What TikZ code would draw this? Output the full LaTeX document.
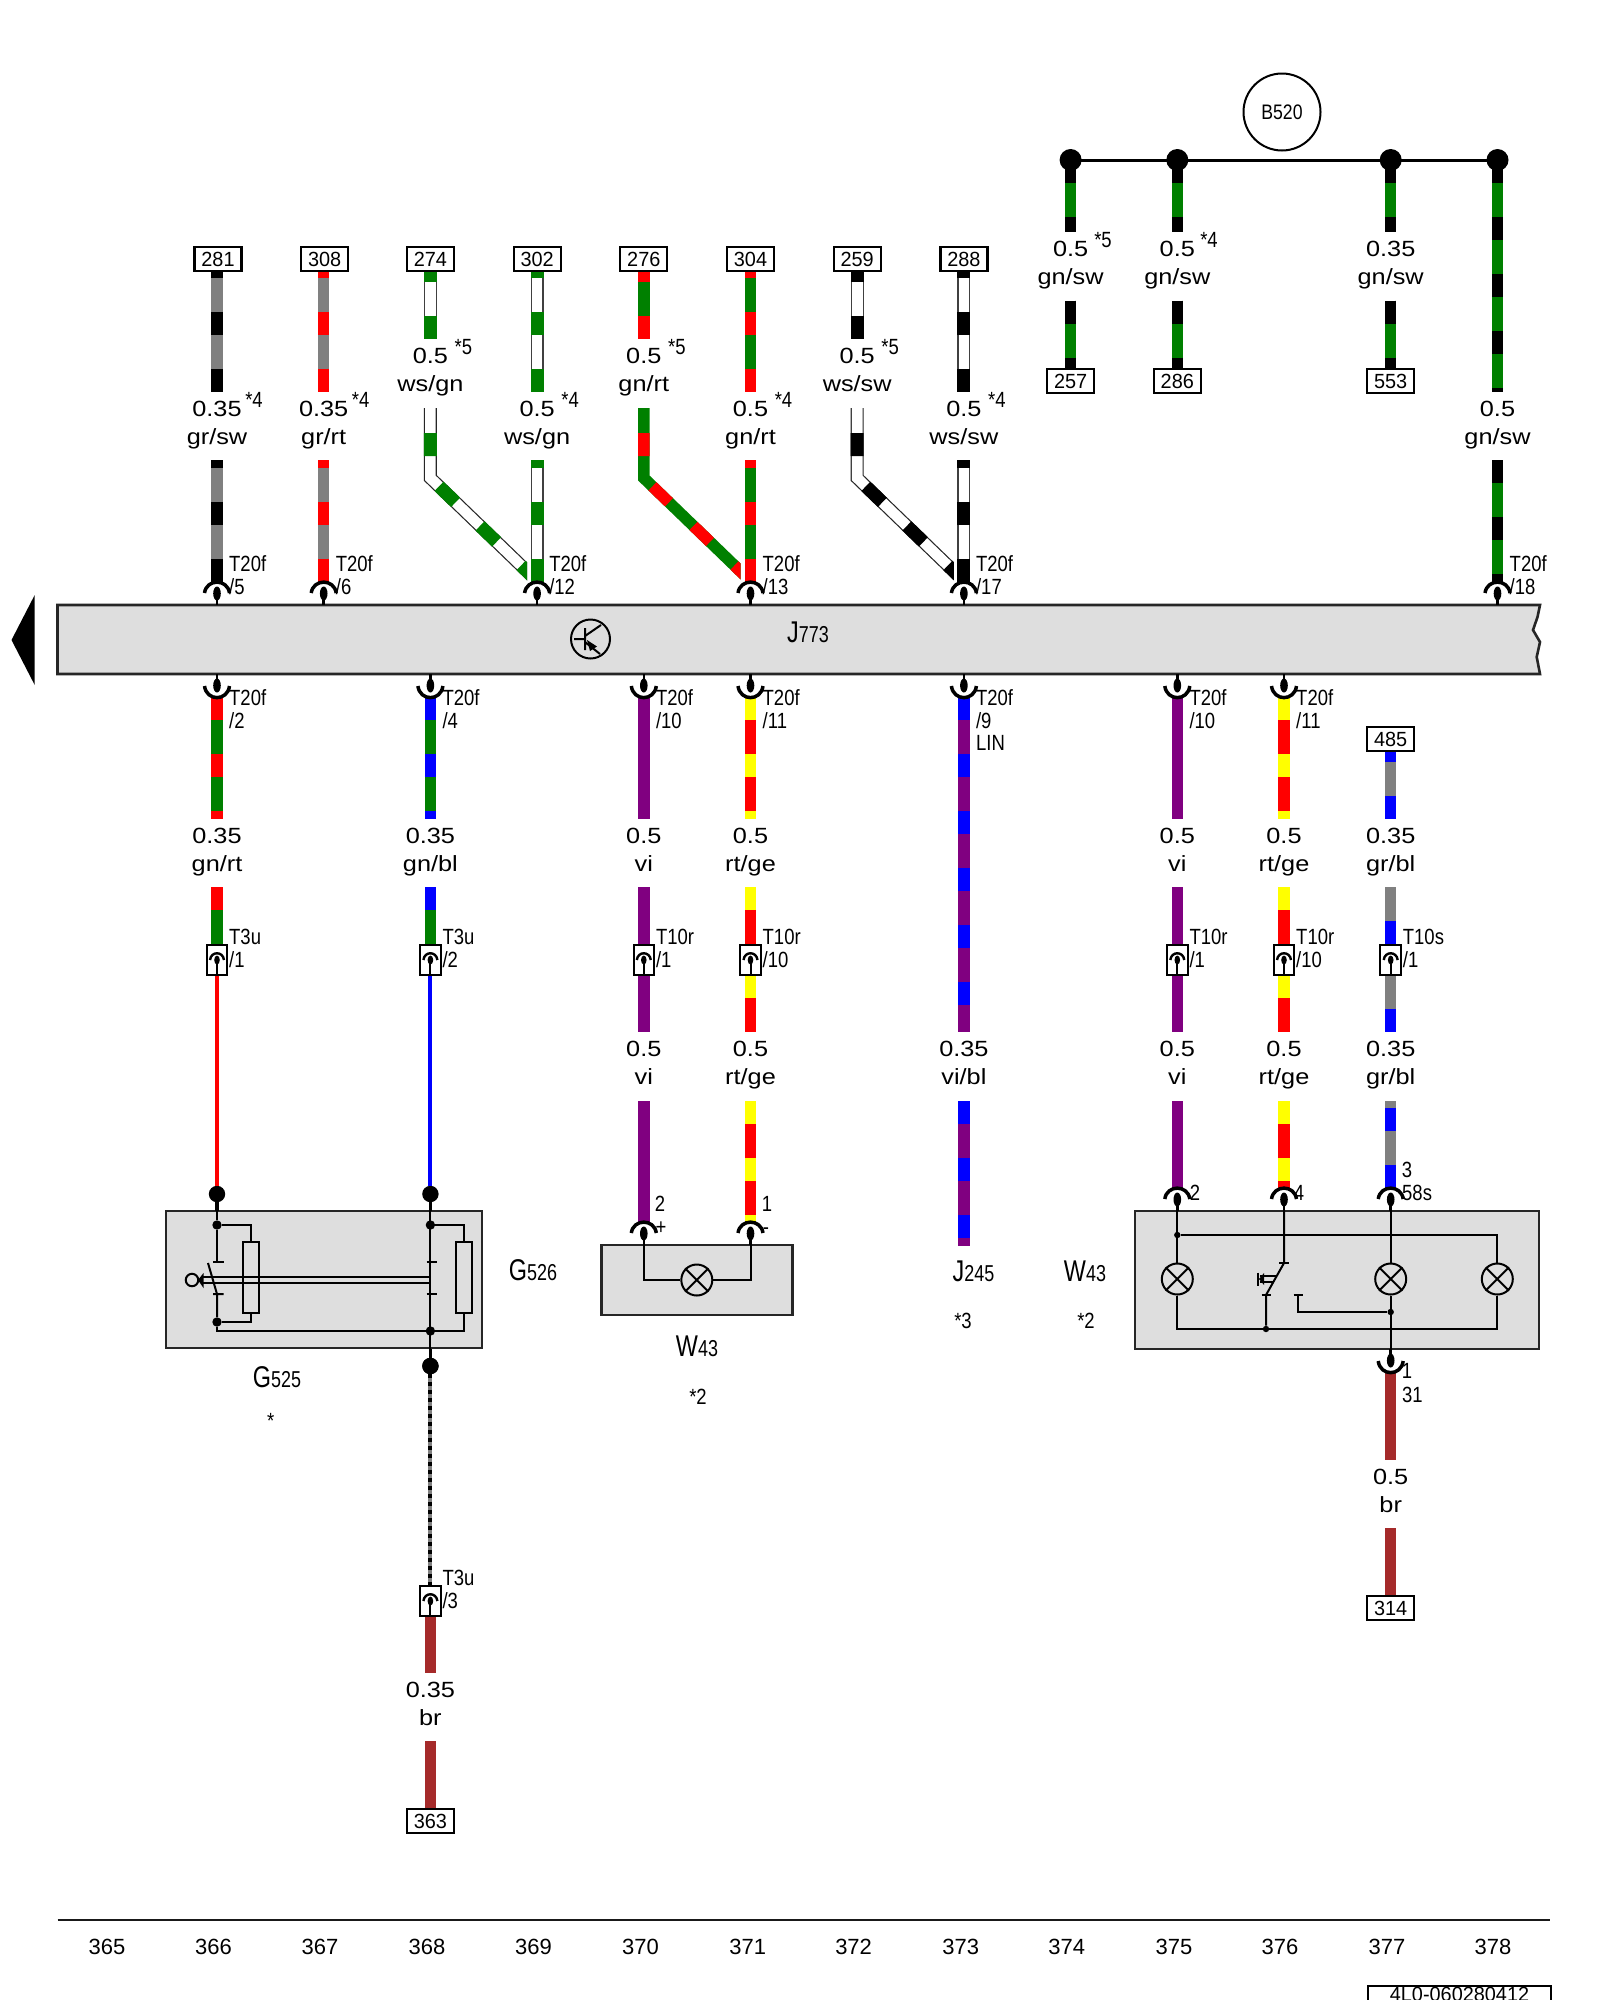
\documentclass[tikz,border=0pt]{standalone}
\usepackage{fontspec}
\setmainfont{Liberation Sans}
\newfontfamily\widef[FakeStretch=1.15]{Liberation Sans}
\newfontfamily\narf[FakeStretch=.84]{Liberation Sans}
\newfontfamily\boxf[FakeStretch=.97]{Liberation Sans}
\newfontfamily\bigf[FakeStretch=.78]{Liberation Sans}
\definecolor{gnc}{RGB}{0,128,0}
\definecolor{rtc}{RGB}{255,0,0}
\definecolor{blc}{RGB}{0,0,255}
\definecolor{gec}{RGB}{255,255,0}
\definecolor{vic}{RGB}{128,0,128}
\definecolor{grc}{RGB}{128,128,128}
\definecolor{brc}{RGB}{165,42,42}
\definecolor{panel}{RGB}{222,222,222}
\tikzset{
 wirepen/.style={line width=11.5pt},
 numtxt/.style={anchor=base,inner sep=0pt,font=\widef\fontsize{22}{22}\selectfont},
 pintxt/.style={anchor=base west,inner sep=0pt,font=\narf\fontsize{22}{22}\selectfont},
 pinctr/.style={anchor=base,inner sep=0pt,font=\narf\fontsize{22}{22}\selectfont},
 bigtxt/.style={anchor=base,inner sep=0pt,font=\bigf},
 refbox/.style={draw=black,line width=2.2pt,fill=white,inner sep=0pt,minimum width=47pt,minimum height=24pt,text height=14.7pt,text depth=0pt,font=\boxf\fontsize{20.5}{20.5}\selectfont},
 conn/.style={draw=black,line width=2pt,fill=white,inner sep=0pt,minimum width=20.5pt,minimum height=30pt},
 panelbox/.style={draw=black!85,line width=2.6pt,fill=panel},
 thin wire/.style={line width=2pt},
 bigdot/.style={circle,fill=black,inner sep=0pt,minimum size=16.4pt},
 huge dot/.style={circle,fill=black,inner sep=0pt,minimum size=22pt},
 meddot/.style={circle,fill=black,inner sep=0pt,minimum size=9.4pt},
 smalldot/.style={circle,fill=black,inner sep=0pt,minimum size=6.4pt},
 lampc/.style={circle,draw=black,line width=2pt,inner sep=0pt,minimum size=31pt},
 resist/.style={draw=black,line width=2pt,inner sep=0pt,minimum width=16pt,minimum height=71pt},
}
\newcount\tc
\newcommand\tx[4]{\global\advance\tc by 1 \node[#1] (t\the\tc) at (#2,#3) {#4};}
% striped wire section
\newcommand\wseg[7]{\coordinate (#1a) at (#2,#3); \coordinate (#1b) at (#2,#4);
 \draw[wirepen,#5] (#1a) -- (#1b);
 \draw[wirepen,#6,dash pattern=on 23pt off 34pt,dash phase=#7pt] (#1a) -- (#1b);}
% white wire with fine outline
\newcommand\wsegw[6]{\coordinate (#1a) at (#2,#3); \coordinate (#1b) at (#2,#4);
 \draw[line width=13pt,black!75] (#1a) -- (#1b);
 \draw[line width=10.6pt,white] (#1a) -- (#1b);
 \draw[line width=13pt,#5,dash pattern=on 23pt off 34pt,dash phase=#6pt] (#1a) -- (#1b);}
\newcommand\wsol[5]{\coordinate (#1a) at (#2,#3); \coordinate (#1b) at (#2,#4);
 \draw[wirepen,#5] (#1a) -- (#1b);}
% bent wires which run into the neighbouring pin
\newcommand\wbend[5]{\begin{scope}
 \clip (#2-20,400) rectangle (#3-10,600);
 \coordinate (#1a) at (#2,408); \coordinate (#1b) at (#2,478); \coordinate (#1c) at (#3,581);
 \draw[wirepen,#4] (#1a) -- (#1b) -- (#1c);
 \draw[wirepen,#5,dash pattern=on 23pt off 34pt,dash phase=32pt] (#1a) -- (#1b) -- (#1c);
 \end{scope}}
\newcommand\wbendw[4]{\begin{scope}
 \clip (#2-20,400) rectangle (#3-10,600);
 \coordinate (#1a) at (#2,408); \coordinate (#1b) at (#2,478); \coordinate (#1c) at (#3,581);
 \draw[line width=13pt,black!85] (#1a) -- (#1b) -- (#1c);
 \draw[line width=10.6pt,white] (#1a) -- (#1b) -- (#1c);
 \draw[line width=13pt,#4,dash pattern=on 23pt off 34pt,dash phase=32pt] (#1a) -- (#1b) -- (#1c);
 \end{scope}}
\newcommand\gauge[4]{\tx{numtxt}{#1}{#2+24}{#3}\tx{numtxt}{#1}{#2+52}{#4}}
\newcommand\stm[3]{\tx{pinctr}{#1}{#2+15}{#3}}
\newcommand\pinT[3]{\coordinate (#1a) at (#2,#3); \coordinate (#1b) at (#2,#3+22.5);
 \draw[line width=3.5pt] (#2-12.5,#3+11) .. controls (#2-10.5,#3-3.5) and (#2+10.5,#3-3.5) .. (#2+12.5,#3+11);
 \fill (#2,#3+11.5) ellipse (3.8pt and 7pt);
 \draw[line width=2.6pt] (#2,#3+12) -- (#1b);}
\newcommand\pinB[3]{\coordinate (#1a) at (#2,#3); \coordinate (#1b) at (#2,#3+24);
 \draw[line width=3.5pt] (#2-12.5,#3+12) .. controls (#2-10.5,#3+27.5) and (#2+10.5,#3+27.5) .. (#2+12.5,#3+12);
 \fill (#2,#3+11.5) ellipse (3.8pt and 7pt);
 \draw[line width=2.6pt] (#1a) -- (#2,#3+11);}
\newcommand\topc[3]{\pinT{#1}{#2}{582}\tx{pintxt}{#2+12}{571}{T20f}\tx{pintxt}{#2+12}{594}{#3}}
\newcommand\botc[3]{\pinB{#1}{#2}{674}\tx{pintxt}{#2+12}{705}{T20f}\tx{pintxt}{#2+12}{728}{#3}}
\newcommand\conbox[5]{\node[conn] (#1) at (#2,#3+15) {};
 \draw[line width=2.4pt] (#2-7,#3+15) .. controls (#2-6,#3+6) and (#2+6,#3+6) .. (#2+7,#3+15);
 \fill (#2,#3+15) ellipse (2.8pt and 4.5pt);
 \draw[line width=2pt] (#2,#3+15) -- (#1.south);
 \tx{pintxt}{#2+12}{#3-1}{#4}\tx{pintxt}{#2+12}{#3+22}{#5}}
\newcommand\refb[4]{\node[refbox] (#1) at (#2,#3) {#4};}
\newcommand\lamp[3]{\node[lampc] (#1) at (#2,#3) {};
 \draw[line width=2pt] (#1.north west) -- (#1.south east) (#1.north east) -- (#1.south west);}
\begin{document}
\begin{tikzpicture}[x=1pt,y=-1pt]
\useasboundingbox (0,0) rectangle (1600,2000);
\fill[white] (0,0) rectangle (1600,2000);

% control unit bar and side arrow
\draw[panelbox] (57.5,605) -- (1540,605) -- (1537.5,617) -- (1533,630) -- (1540,642) -- (1536.7,657) -- (1540,674) -- (57.5,674) -- cycle;
\fill (11.5,640) -- (34.7,595) -- (34.7,685) -- cycle;
\node[circle,draw=black,line width=2pt,inner sep=0pt,minimum size=39pt] (trans) at (590.5,639) {};
\draw[line width=2pt] (574,639) -- (585,639) (585,628) -- (585,650) (585,636) -- (601,625) (585,642) -- (600,654);
\fill (587,640) -- (597,646.5) -- (590,651) -- cycle;
\tx{bigtxt}{808}{642}{{\fontsize{30}{30}\selectfont J}{\fontsize{23}{23}\selectfont 773}}

% B520 bus
\node[circle,draw=black,line width=2pt,inner sep=0pt,minimum size=77pt,font=\narf\fontsize{21}{21}\selectfont] (b520) at (1282,112) {B520};
\coordinate (busl) at (1071,160); \coordinate (busr) at (1498,160);
\draw[line width=3pt] (busl) -- (busr);

% ---- upper wires ----
% 281
\wseg{a1}{217}{271}{392}{grc}{black}{16}
\refb{b281}{218}{259}{281}
\gauge{217}{392}{0.35}{gr/sw}\stm{254}{392}{*4}
\wseg{a2}{217}{460}{582}{grc}{black}{15}
\topc{pa}{217}{/5}
% 308
\wseg{c1}{323.7}{271}{392}{grc}{rtc}{16}
\refb{b308}{324.7}{259}{308}
\gauge{323.7}{392}{0.35}{gr/rt}\stm{360.7}{392}{*4}
\wseg{c2}{323.7}{460}{582}{grc}{rtc}{15}
\topc{pc}{323.7}{/6}
% 274
\wsegw{d1}{430.4}{271}{339}{gnc}{12}
\refb{b274}{430.4}{259}{274}
\gauge{430.4}{339}{0.5}{ws/gn}\stm{463.4}{339}{*5}
\wbendw{d2}{430.4}{537.1}{gnc}
% 302
\wsegw{e1}{537.1}{271}{392}{gnc}{16}
\refb{b302}{537.1}{259}{302}
\gauge{537.1}{392}{0.5}{ws/gn}\stm{570.1}{392}{*4}
\wsegw{e2}{537.1}{460}{582}{gnc}{15}
\topc{pe}{537.1}{/12}
% 276
\wseg{f1}{643.8}{271}{339}{gnc}{rtc}{12}
\refb{b276}{643.8}{259}{276}
\gauge{643.8}{339}{0.5}{gn/rt}\stm{676.8}{339}{*5}
\wbend{f2}{643.8}{750.5}{gnc}{rtc}
% 304
\wseg{g1}{750.5}{271}{392}{gnc}{rtc}{16}
\refb{b304}{750.5}{259}{304}
\gauge{750.5}{392}{0.5}{gn/rt}\stm{783.5}{392}{*4}
\wseg{g2}{750.5}{460}{582}{gnc}{rtc}{15}
\topc{pg}{750.5}{/13}
% 259
\wsegw{h1}{857.2}{271}{339}{black}{12}
\refb{b259}{857.2}{259}{259}
\gauge{857.2}{339}{0.5}{ws/sw}\stm{890.2}{339}{*5}
\wbendw{h2}{857.2}{963.9}{black}
% 288
\wsegw{i1}{963.9}{271}{392}{black}{16}
\refb{b288}{963.9}{259}{288}
\gauge{963.9}{392}{0.5}{ws/sw}\stm{996.9}{392}{*4}
\wsegw{i2}{963.9}{460}{582}{black}{15}
\topc{pi}{963.9}{/17}
% 257
\wseg{j1}{1070.6}{161}{232}{gnc}{black}{1}
\gauge{1070.6}{232}{0.5}{gn/sw}\stm{1103}{232}{*5}
\wseg{j2}{1070.6}{300.5}{369}{gnc}{black}{0}
\refb{b257}{1070.6}{381}{257}
% 286
\wseg{k1}{1177.3}{161}{232}{gnc}{black}{1}
\gauge{1177.3}{232}{0.5}{gn/sw}\stm{1209}{232}{*4}
\wseg{k2}{1177.3}{300.5}{369}{gnc}{black}{0}
\refb{b286}{1177.3}{381}{286}
% 553
\wseg{l1}{1390.7}{161}{232}{gnc}{black}{1}
\gauge{1390.7}{232}{0.35}{gn/sw}
\wseg{l2}{1390.7}{300.5}{369}{gnc}{black}{0}
\refb{b553}{1390.7}{381}{553}
% long one
\wseg{m1}{1497.5}{161}{392}{gnc}{black}{1}
\gauge{1497.5}{392}{0.5}{gn/sw}
\wseg{m2}{1497.5}{460}{582}{gnc}{black}{0}
\topc{pm}{1497.5}{/18}
\node[huge dot] (bd1) at (1070.6,160) {};
\node[huge dot] (bd2) at (1177.3,160) {};
\node[huge dot] (bd3) at (1390.7,160) {};
\node[huge dot] (bd4) at (1497.5,160) {};

% ---- lower wires ----
% G525 feed
\wseg{n1}{217}{698}{819}{gnc}{rtc}{1}
\gauge{217}{819}{0.35}{gn/rt}
\wseg{n2}{217}{887}{945}{gnc}{rtc}{0}
\botc{pn}{217}{/2}
\conbox{cn}{217}{945}{T3u}{/1}
\node[bigdot] (jg1) at (217,1194) {};
\draw[line width=4pt,rtc] (cn.south) -- (jg1);
% G526 feed
\wseg{o1}{430.4}{698}{819}{gnc}{blc}{1}
\gauge{430.4}{819}{0.35}{gn/bl}
\wseg{o2}{430.4}{887}{945}{gnc}{blc}{0}
\botc{po}{430.4}{/4}
\conbox{co}{430.4}{945}{T3u}{/2}
\node[bigdot] (jg2) at (430.4,1194) {};
\draw[line width=4pt,blc] (co.south) -- (jg2);
% W43 left
\wsol{q1}{643.8}{698}{819}{vic}
\gauge{643.8}{819}{0.5}{vi}
\wsol{q2}{643.8}{887}{945}{vic}
\wsol{q3}{643.8}{975}{1032}{vic}
\gauge{643.8}{1032}{0.5}{vi}
\wsol{q4}{643.8}{1101}{1222}{vic}
\botc{pq}{643.8}{/10}
\conbox{cq}{643.8}{945}{T10r}{/1}
\wseg{r1}{750.5}{698}{819}{rtc}{gec}{1}
\gauge{750.5}{819}{0.5}{rt/ge}
\wseg{r2}{750.5}{887}{945}{rtc}{gec}{0}
\wseg{r3}{750.5}{975}{1032}{rtc}{gec}{0}
\gauge{750.5}{1032}{0.5}{rt/ge}
\wseg{r4}{750.5}{1101}{1222}{rtc}{gec}{0}
\botc{pr}{750.5}{/11}
\conbox{cr}{750.5}{945}{T10r}{/10}
% J245
\wseg{s1}{963.9}{698}{1032}{vic}{blc}{1}
\gauge{963.9}{1032}{0.35}{vi/bl}
\wseg{s2}{963.9}{1101}{1246}{vic}{blc}{0}
\botc{ps}{963.9}{/9}
\tx{pintxt}{976}{750}{LIN}
% W43 right
\wsol{u1}{1177.3}{698}{819}{vic}
\gauge{1177.3}{819}{0.5}{vi}
\wsol{u2}{1177.3}{887}{945}{vic}
\wsol{u3}{1177.3}{975}{1032}{vic}
\gauge{1177.3}{1032}{0.5}{vi}
\wsol{u4}{1177.3}{1101}{1188}{vic}
\botc{pu}{1177.3}{/10}
\conbox{cu}{1177.3}{945}{T10r}{/1}
\wseg{v1}{1284}{698}{819}{rtc}{gec}{1}
\gauge{1284}{819}{0.5}{rt/ge}
\wseg{v2}{1284}{887}{945}{rtc}{gec}{0}
\wseg{v3}{1284}{975}{1032}{rtc}{gec}{0}
\gauge{1284}{1032}{0.5}{rt/ge}
\wseg{v4}{1284}{1101}{1188}{rtc}{gec}{0}
\botc{pv}{1284}{/11}
\conbox{cv}{1284}{945}{T10r}{/10}
\wseg{y1}{1390.7}{751}{819}{grc}{blc}{12}
\refb{b485}{1390.7}{739}{485}
\gauge{1390.7}{819}{0.35}{gr/bl}
\wseg{y2}{1390.7}{887}{945}{grc}{blc}{23}
\wseg{y3}{1390.7}{975}{1032}{grc}{blc}{23}
\gauge{1390.7}{1032}{0.35}{gr/bl}
\wseg{y4}{1390.7}{1101}{1188}{grc}{blc}{50}
\conbox{cy}{1390.7}{945}{T10s}{/1}

% ---- G525 / G526 box ----
\node[panelbox,minimum width=316pt,minimum height=137pt,inner sep=0pt] (gbox) at (324,1279.5) {};
\node[bigdot] (jg3) at (430.4,1366) {};
\node[meddot] (gl1) at (217,1225) {};
\node[meddot] (gl2) at (217,1322) {};
\node[meddot] (gr1) at (430.4,1225) {};
\node[meddot] (gr2) at (430.4,1331) {};
\node[resist] (res1) at (251,1277.5) {};
\node[resist] (res2) at (464,1277.5) {};
\coordinate (gc1) at (217,1262); \coordinate (gc2) at (217,1294); \coordinate (gc3) at (208,1263);
\draw[line width=3.5pt] (jg1) -- (217,1211) (jg2) -- (430.4,1211) (430.4,1349) -- (jg3);
\draw[thin wire] (jg1) -- (gl1) -- (gc1) (213,1262) -- (223.5,1262);
\draw[thin wire] (gc3) -- (gc2) (213,1294) -- (223.5,1294) (gc2) -- (gl2);
\draw[thin wire] (gl2) -- (217,1331) -- (gr2);
\draw[thin wire] (jg2) -- (jg3);
\draw[thin wire] (426.5,1262) -- (437,1262) (426.5,1294) -- (437,1294);
\draw[thin wire] (gl1) -| (res1.north) (gl2) -| (res1.south);
\draw[thin wire] (gr1) -| (res2.north) (gr2) -| (res2.south);
\draw[thin wire] (202,1277) -- (431,1277) (202,1283) -- (431,1283);
\fill (198,1280) -- (203.5,1273) -- (203.5,1288) -- cycle;
\node[circle,draw=black,line width=2pt,inner sep=0pt,minimum size=12.5pt] (gknob) at (192,1280) {};
\tx{bigtxt}{533}{1280}{{\fontsize{30}{30}\selectfont G}{\fontsize{23}{23}\selectfont 526}}
\tx{bigtxt}{277}{1387}{{\fontsize{30}{30}\selectfont G}{\fontsize{23}{23}\selectfont 525}}
\tx{pinctr}{270.7}{1428}{*}

% earth from G526
\draw[line width=4pt,grc] (jg3) -- (430.4,1586);
\draw[line width=4pt,black,dash pattern=on 4pt off 4pt] (jg3) -- (430.4,1586);
\wsol{z1}{430.4}{1615}{1673}{brc}
\gauge{430.4}{1673}{0.35}{br}
\wsol{z2}{430.4}{1741}{1809}{brc}
\refb{b363}{430.4}{1821}{363}
\conbox{cz}{430.4}{1586}{T3u}{/3}
\node[bigdot] (jg4) at (430.4,1366) {};

% ---- W43 left box ----
\node[panelbox,minimum width=191.5pt,minimum height=70pt,inner sep=0pt] (wbox) at (697,1280) {};
\pinT{pw1}{643.8}{1222}
\pinT{pw2}{750.5}{1222}
\lamp{lw}{696.8}{1280}
\draw[thin wire] (pw1b) |- (lw.west) (pw2b) |- (lw.east);
\tx{pinctr}{660}{1211}{2}\tx{pinctr}{661}{1234}{+}\tx{pinctr}{767}{1211}{1}\tx{pinctr}{766}{1234}{-}
\tx{bigtxt}{697}{1356}{{\fontsize{30}{30}\selectfont W}{\fontsize{23}{23}\selectfont 43}}
\tx{pinctr}{698}{1404}{*2}
% J245 caption
\tx{bigtxt}{973.5}{1281}{{\fontsize{30}{30}\selectfont J}{\fontsize{23}{23}\selectfont 245}}
\tx{pinctr}{963}{1328}{*3}
\tx{bigtxt}{1085}{1281}{{\fontsize{30}{30}\selectfont W}{\fontsize{23}{23}\selectfont 43}}
\tx{pinctr}{1086}{1328}{*2}

% ---- W43 right box ----
\node[panelbox,minimum width=404pt,minimum height=138pt,inner sep=0pt] (xbox) at (1337,1280) {};
\pinT{px1}{1177.3}{1188}
\pinT{px2}{1284}{1188}
\pinT{px3}{1390.7}{1188}
\lamp{l1}{1177.3}{1279}
\lamp{l3}{1390.7}{1279}
\lamp{l4}{1497.3}{1279}
\node[smalldot] (xd1) at (1177.3,1235) {};
\node[smalldot] (xd2) at (1266,1329) {};
\node[smalldot] (xd3) at (1390.7,1312) {};
\coordinate (xs1) at (1284,1263); \coordinate (xs2) at (1266,1295); \coordinate (xs3) at (1298.3,1295);
\coordinate (px4a) at (1390.7,1349);
\draw[thin wire] (px1b) -- (l1.north) (l1.south) -- (1177.3,1329) -- (xd2) -- (1497.3,1329) -- (l4.south);
\draw[thin wire] (xd1) -| (l4.north);
\draw[thin wire] (px3b) -- (l3.north) (l3.south) -- (xd3) -- (px4a);
\draw[thin wire] (px2b) -- (xs1) -- (xs2) -- (xd2);
\draw[thin wire] (1279,1263) -- (1289,1263) (1261.5,1295) -- (1271,1295) (1293.5,1295) -- (1303,1295);
\draw[thin wire] (xs3) |- (xd3);
\draw[thin wire] (1260,1276) -- (1275.5,1276) (1260,1282) -- (1272.5,1282);
\fill (1259,1279) -- (1264,1273) -- (1264,1285) -- cycle;
\draw[thin wire] (1258,1272.5) -- (1258,1285.5);
\wsol{w1}{1390.7}{1372}{1460}{brc}
\pinB{px5}{1390.7}{1349}
\gauge{1390.7}{1460}{0.5}{br}
\wsol{w2}{1390.7}{1528}{1596}{brc}
\refb{b314}{1390.7}{1608}{314}
\tx{pinctr}{1195}{1200}{2}\tx{pinctr}{1299}{1200}{4}\tx{pinctr}{1407}{1177}{3}
\tx{pintxt}{1402}{1200}{58s}\tx{pinctr}{1407}{1378}{1}\tx{pintxt}{1402}{1402}{31}

% ---- page footer ----
\coordinate (fl) at (57.5,1920); \coordinate (fr) at (1550,1920);
\draw[line width=2.4pt,black!90] (fl) -- (fr);
\foreach \lbl/\xp in {365/107,366/213.5,367/320,368/427,369/533.5,370/640.5,371/747.7,372/853.6,373/960.8,374/1066.7,375/1174,376/1280,377/1387,378/1493}{
 \node[anchor=base,inner sep=0pt,font=\fontsize{22}{22}\selectfont] (f\lbl) at (\xp,1954) {\lbl};}
\node[draw=black,line width=2.4pt,fill=white,inner sep=0pt,minimum width=183pt,minimum height=50pt,anchor=north] (docbox) at (1459.5,1984.5) {};
\node[anchor=base,inner sep=0pt,font=\boxf\fontsize{20.5}{20.5}\selectfont] (doc) at (1459.5,2001) {4L0-060280412};
\end{tikzpicture}
\end{document}
